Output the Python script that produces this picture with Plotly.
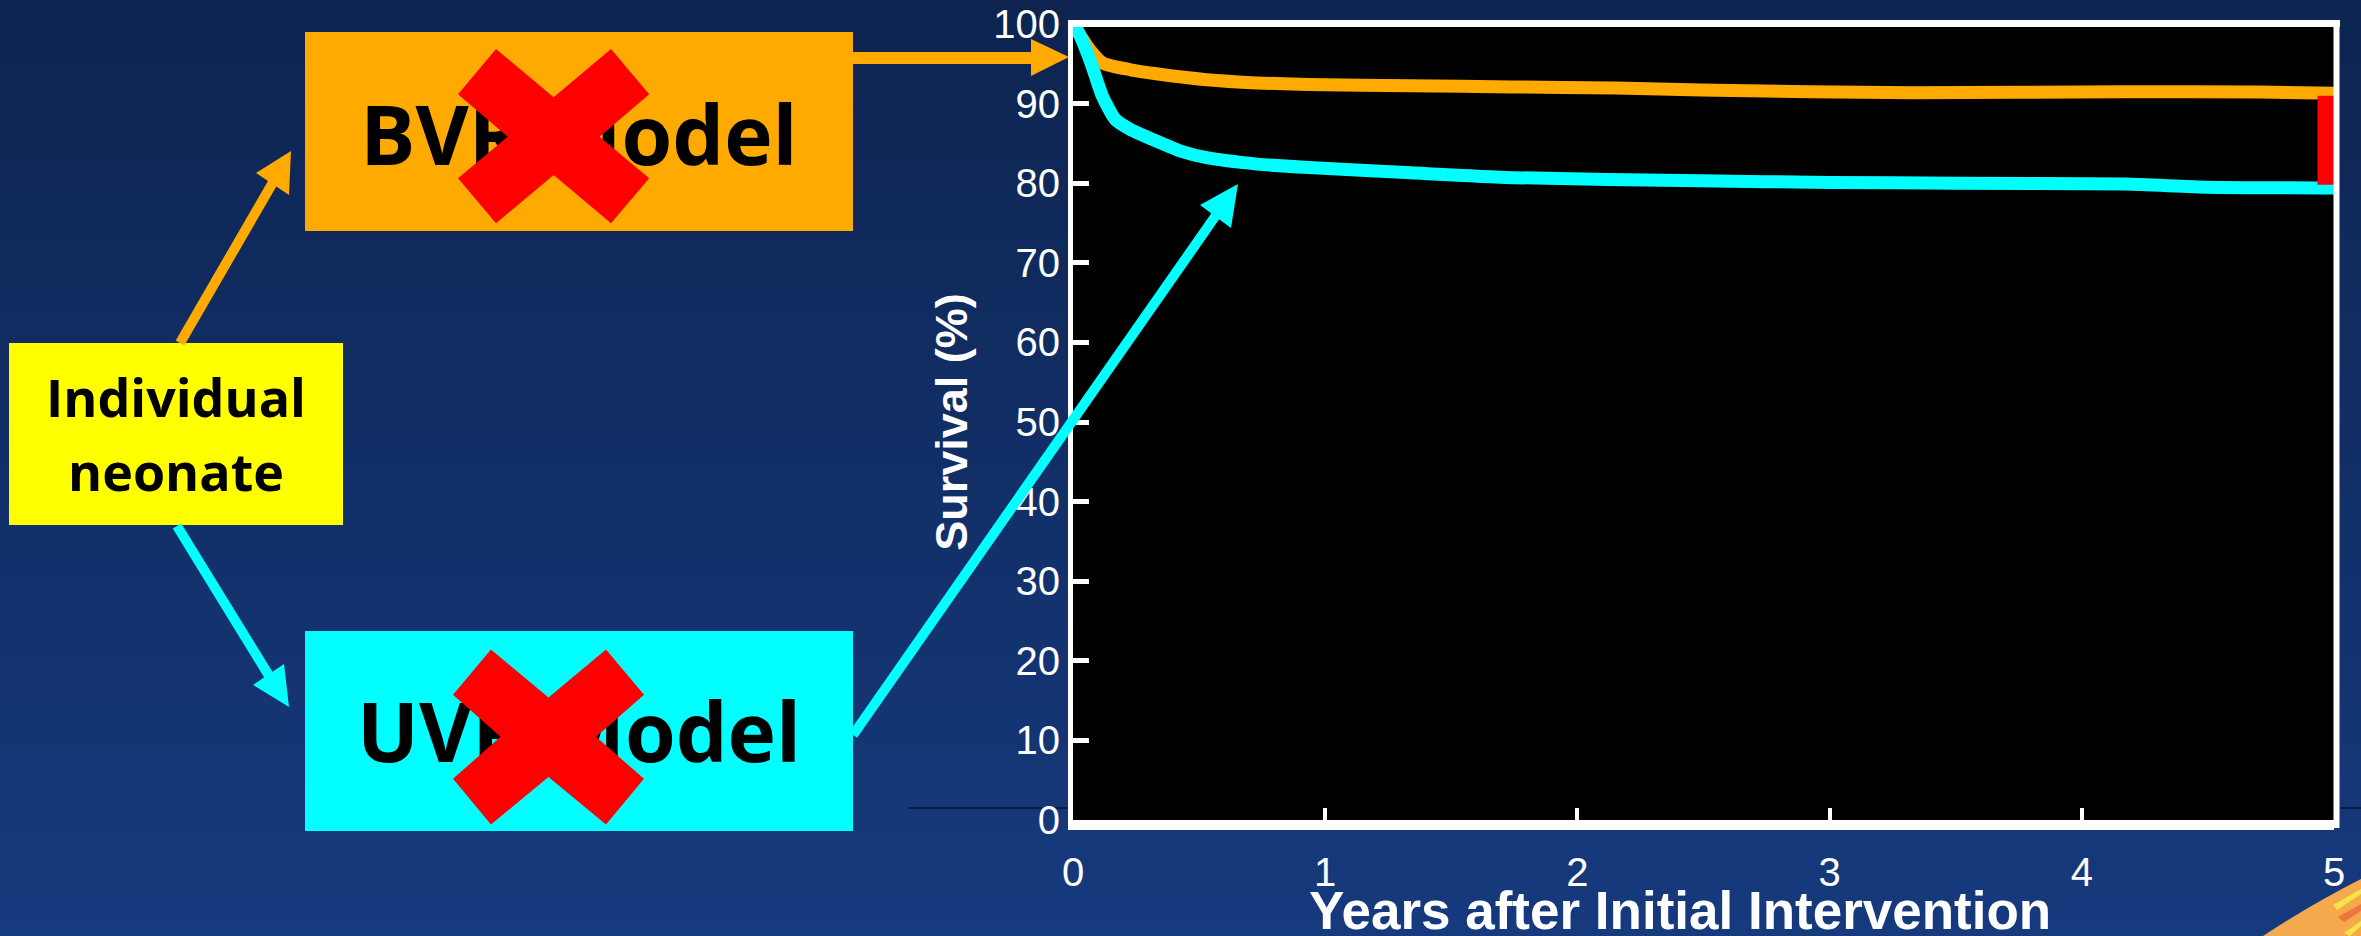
import plotly.graph_objects as go

# ---- survival curves (years after initial intervention, survival %) ----
bvr_years = [0.0, 0.03, 0.067, 0.117, 0.228, 0.33, 0.53, 0.73, 0.935, 1.34, 1.74, 2.15, 2.49, 3.33, 4.17, 4.7, 5.0]
bvr_surv = [100.0, 98.5, 96.75, 95.1, 94.25, 93.75, 93.0, 92.6, 92.4, 92.25, 92.1, 91.95, 91.7, 91.35, 91.5, 91.45, 91.3]

uvr_years = [0.0, 0.016, 0.067, 0.117, 0.168, 0.228, 0.33, 0.43, 0.53, 0.73, 0.935, 1.34, 1.74, 2.49, 3.0, 3.5, 4.17, 4.5, 5.0]
uvr_surv = [99.6, 99.25, 95.5, 90.9, 88.0, 86.75, 85.3, 84.0, 83.2, 82.4, 81.96, 81.3, 80.7, 80.3, 80.1, 80.0, 79.9, 79.5, 79.4]

# gap between the two models at five years
gap_years = [4.98, 4.98]
gap_surv = [79.8, 91.0]

x_ticks = [0, 1, 2, 3, 4, 5]
y_ticks = [0, 10, 20, 30, 40, 50, 60, 70, 80, 90, 100]

box_labels = ["BVR Model", "UVR Model"]
start_label = ["Individual", "neonate"]
x_title = "Years after Initial Intervention"
y_title = "Survival (%)"

ORANGE = "#FFAA00"
CYAN = "#00FFFF"
RED = "#FF0000"

W, H = 2361, 936
# chart panel edges on the slide (pixels)
L, R, T, B = 1073, 2334, 24, 820


def px(x):
    return x / W


def py(y):
    return 1 - y / H


def path(points):
    return "M " + " L ".join(f"{px(x):.5f},{py(y):.5f}" for x, y in points) + " Z"


shapes = []

# slide background: vertical navy gradient
top_c, bot_c = (13, 36, 80), (22, 58, 126)
n = 60
for i in range(n):
    f = (i + 0.5) / n
    c = tuple(round(a + (b - a) * f) for a, b in zip(top_c, bot_c))
    shapes.append(dict(type="rect", xref="paper", yref="paper", layer="below",
                       x0=px(-2), x1=px(W + 2), y0=py(H * i / n - (2 if i == 0 else 0)),
                       y1=py(H * (i + 1) / n + 1),
                       fillcolor=f"rgb{c}", line=dict(width=0)))

# seam of the inserted chart picture
for xa, xb in [(908, 1068), (2341, W)]:
    shapes.append(dict(type="line", xref="paper", yref="paper", layer="below",
                       x0=px(xa), x1=px(xb), y0=py(808), y1=py(808),
                       line=dict(color="rgba(8,25,60,0.9)", width=2)))

# plot area
shapes.append(dict(type="rect", xref="paper", yref="paper", layer="below",
                   x0=px(L), x1=px(R), y0=py(B), y1=py(T), fillcolor="black", line=dict(width=0)))

# corner ribbon decoration
shapes.append(dict(type="path", xref="paper", yref="paper", layer="below",
                   path="M %f,%f Q %f,%f %f,%f L %f,%f Z" % (
                       px(2263), py(H), px(2310), py(905), px(W), py(879), px(W), py(H)),
                   fillcolor="#F5A94D", line=dict(width=0)))
shapes.append(dict(type="path", xref="paper", yref="paper", layer="below",
                   path=path([(2338, 917), (W, 904), (W, 911), (2344, 922)]),
                   fillcolor="#EF7440", line=dict(width=0)))
shapes.append(dict(type="path", xref="paper", yref="paper", layer="below",
                   path=path([(2333, 905), (W, 889), (W, 894), (2337, 910)]),
                   fillcolor="#F3E547", line=dict(width=0)))
shapes.append(dict(type="path", xref="paper", yref="paper", layer="below",
                   path=path([(2344, 933), (W, 921), (W, 926), (2350, 936)]),
                   fillcolor="#F3E547", line=dict(width=0)))

# model boxes
for (x0, y0, x1, y1, col) in [(305, 32, 853, 231, ORANGE), (305, 631, 853, 831, CYAN),
                              (9, 343, 343, 525, "#FFFF00")]:
    shapes.append(dict(type="rect", xref="paper", yref="paper", layer="below",
                       x0=px(x0), x1=px(x1), y0=py(y1), y1=py(y0),
                       fillcolor=col, line=dict(width=0)))

# arrow shafts
for (x0, y0, x1, y1, col, w) in [(180, 343, 272.6, 183, ORANGE, 10),
                                 (177, 526, 268.8, 675.4, CYAN, 10),
                                 (853, 58, 1034, 58, ORANGE, 12),
                                 (853, 735, 1215.8, 215.5, CYAN, 10)]:
    shapes.append(dict(type="line", xref="paper", yref="paper", layer="above",
                       x0=px(x0), x1=px(x1), y0=py(y0), y1=py(y1),
                       line=dict(color=col, width=w)))

# arrow heads
for pts, col in [([(291, 151), (256, 173), (289, 195)], ORANGE),
                 ([(289, 707), (253, 685), (284, 664)], CYAN),
                 ([(1238, 184), (1200, 205), (1231, 228)], CYAN),
                 ([(1069, 57), (1031, 39), (1031, 76)], ORANGE)]:
    shapes.append(dict(type="path", xref="paper", yref="paper", layer="above",
                       path=path(pts), fillcolor=col, line=dict(width=0)))

# red crosses over the model names
cross_bvr = [(496, 49), (553.6, 97.3), (611, 49), (649.2, 94.3), (599.5, 136.7), (649.2, 178.3),
             (611, 223.3), (553.6, 175), (496, 223.3), (458, 178.3), (507.7, 136.7), (458, 94.3)]
cross_uvr = [(491, 649.6), (548.5, 697.4), (606, 649.6), (644, 694.7), (596, 736.8), (644, 778.8),
             (606, 824.6), (548.5, 777), (491, 824.6), (453, 778.8), (500.6, 736.8), (453, 694.7)]
for pts in (cross_bvr, cross_uvr):
    shapes.append(dict(type="path", xref="paper", yref="paper", layer="above",
                       path=path(pts), fillcolor=RED, line=dict(width=0)))

# plot frame: top and right edges
shapes.append(dict(type="line", xref="paper", yref="paper", layer="above",
                   x0=px(1068), x1=px(2340), y0=py(23.5), y1=py(23.5),
                   line=dict(color="white", width=7)))
shapes.append(dict(type="line", xref="paper", yref="paper", layer="above",
                   x0=px(2336.5), x1=px(2336.5), y0=py(20), y1=py(828),
                   line=dict(color="white", width=6)))

fig = go.Figure()

fig.add_trace(go.Scatter(x=bvr_years, y=bvr_surv, mode="lines", name="BVR",
                         line=dict(color=ORANGE, width=13, shape="spline", smoothing=0.6),
                         hoverinfo="skip", showlegend=False))
fig.add_trace(go.Scatter(x=uvr_years, y=uvr_surv, mode="lines", name="UVR",
                         line=dict(color=CYAN, width=13, shape="spline", smoothing=0.6),
                         hoverinfo="skip", showlegend=False))
fig.add_trace(go.Scatter(x=gap_years, y=gap_surv, mode="lines", name="gap",
                         line=dict(color=RED, width=23), hoverinfo="skip", showlegend=False))

# box captions on a full-slide overlay (pixel units) so the crosses can sit on top
cap_px = [(579, 144), (579, 741), (176, 404), (176, 478)]
fig.add_trace(go.Scatter(
    x=[a for a, _ in cap_px], y=[b for _, b in cap_px],
    text=box_labels + start_label,
    mode="text", xaxis="x2", yaxis="y2",
    textposition="middle center",
    textfont=dict(family="Open Sans, Noto Sans, sans-serif", color="black",
                  size=[82, 82, 52, 52], weight="bold"),
    hoverinfo="skip", showlegend=False))

tick_font = dict(family="Liberation Sans Narrow, Liberation Sans, Arial", size=40, color="white")

fig.update_layout(
    width=W, height=H,
    margin=dict(l=0, r=0, t=0, b=0, pad=0, autoexpand=False),
    paper_bgcolor="rgb(17,46,101)",
    plot_bgcolor="rgba(0,0,0,0)",
    shapes=shapes,
    xaxis=dict(domain=[L / W, R / W], anchor="y",
               range=[0, 5], tickvals=x_ticks, ticktext=[str(v) for v in x_ticks],
               ticks="inside", ticklen=12, tickwidth=4, tickcolor="white",
               showline=True, linecolor="white", linewidth=10,
               showgrid=False, zeroline=False, ticklabelstandoff=8, automargin=False,
               tickfont=tick_font),
    yaxis=dict(domain=[1 - B / H, 1 - T / H], anchor="x",
               range=[0, 100], tickvals=y_ticks, ticktext=[str(v) for v in y_ticks],
               ticks="inside", ticklen=16, tickwidth=5, tickcolor="white",
               showline=True, linecolor="white", linewidth=5, automargin=False,
               showgrid=False, zeroline=False,
               tickfont=tick_font,
               title=dict(text=f"<b>{y_title}</b>", standoff=13,
                          font=dict(family="Liberation Sans, Arial", size=45, color="white"))),
    xaxis2=dict(domain=[0, 1], anchor="y2", range=[0, W], visible=False, fixedrange=True),
    yaxis2=dict(domain=[0, 1], anchor="x2", range=[H, 0], visible=False, fixedrange=True),
    annotations=[dict(text=f"<b>{x_title}</b>", xref="paper", yref="paper",
                      x=px(1680), y=py(910), xanchor="center", yanchor="middle",
                      showarrow=False,
                      font=dict(family="Liberation Sans, Arial", size=53, color="white"))],
)

fig.write_html("out.html")
